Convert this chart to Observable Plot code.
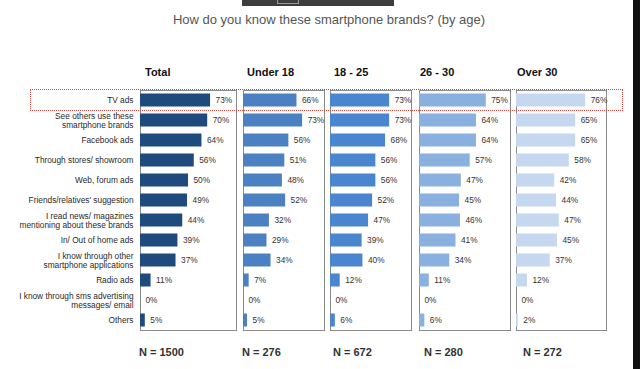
<!DOCTYPE html>
<html>
<head>
<meta charset="utf-8">
<script src="https://cdn.jsdelivr.net/npm/d3@7"></script>
<script src="https://cdn.jsdelivr.net/npm/@observablehq/plot@0.6"></script>
<style>
  html, body { margin: 0; padding: 0; background: #fff; }
  #wrap { position: relative; width: 640px; height: 369px; overflow: hidden; background: #fff;
          font-family: "Liberation Sans", Arial, sans-serif; }
  .abs { position: absolute; white-space: nowrap; }
  .hdr { font-size: 11px; font-weight: bold; color: #111; line-height: 14px; }
  .plotbox { position: absolute; top: 0; }
</style>
</head>
<body>
<div id="wrap"></div>
<script>
// ---- data ----
const categories = [
  "TV ads",
  "See others use these\nsmartphone brands",
  "Facebook ads",
  "Through stores/ showroom",
  "Web, forum ads",
  "Friends/relatives' suggestion",
  "I read news/ magazines\nmentioning about these brands",
  "In/ Out of home ads",
  "I know through other\nsmartphone applications",
  "Radio ads",
  "I know through sms advertising\nmessages/ email",
  "Others"
];
const groups = ["Total", "Under 18", "18 - 25", "26 - 30", "Over 30"];
const sampleSizes = ["N = 1500", "N = 276", "N = 672", "N = 280", "N = 272"];
const total   = [73, 70, 64, 56, 50, 49, 44, 39, 37, 11, 0, 5];
const under18 = [66, 73, 56, 51, 48, 52, 32, 29, 34, 7, 0, 5];
const age1825 = [73, 73, 68, 56, 56, 52, 47, 39, 40, 12, 0, 6];
const age2630 = [75, 64, 64, 57, 47, 45, 46, 41, 34, 11, 0, 6];
const over30  = [76, 65, 65, 58, 42, 44, 47, 45, 37, 12, 0, 2];
const series = [total, under18, age1825, age2630, over30];
const colors = ["#1f4a7e", "#4b80c3", "#4a86cf", "#8ab0df", "#c5d8f0"];

// ---- layout (not data) ----
const panels = [
  {left: 140, right: 236, k: 0.96, hx: 145, nx: 139},
  {left: 243, right: 324, k: 0.81, hx: 247, nx: 242},
  {left: 330, right: 411, k: 0.81, hx: 334, nx: 333},
  {left: 419, right: 510, k: 0.89, hx: 420, nx: 424},
  {left: 516, right: 606, k: 0.91, hx: 517, nx: 523}
];
const FONT = "Liberation Sans, Arial, sans-serif";
const wrap = document.getElementById("wrap");

function addDiv(cls, css, text) {
  const d = document.createElement("div");
  d.className = cls;
  Object.assign(d.style, css);
  if (text != null) d.textContent = text;
  wrap.appendChild(d);
  return d;
}

// screenshot artefacts: dark bar at top, black edge on the right
const topBar = addDiv("abs", {left: "242px", top: "0px", width: "152px", height: "6px", background: "#3d3d3d"});
addDiv("abs", {left: "277px", top: "0px", width: "20px", height: "3px", border: "1px solid #999", borderTop: "none"});
addDiv("abs", {left: "633px", top: "0px", width: "7px", height: "369px", background: "#111"});

// title
addDiv("abs", {left: "129px", width: "400px", top: "12px", lineHeight: "15px", fontSize: "13px",
  color: "#555", textAlign: "center"}, "How do you know these smartphone brands? (by age)");

panels.forEach((p, i) => {
  const values = series[i];
  const rows = categories.map((c, j) => ({category: c, value: values[j]}));
  const mL = i === 0 ? p.left : 1;
  const pw = p.right - p.left;
  const width = mL + pw + 1;
  const marks = [
    Plot.frame({stroke: "#8a8a8a", strokeWidth: 1}),
    Plot.barX(rows, {x1: 0, x2: "value", y: "category", fill: colors[i], insetTop: 3.5, insetBottom: 3.5}),
    Plot.text(rows, {x: "value", y: "category", text: d => d.value + "%", dx: 5, textAnchor: "start",
      fontSize: 8.3, fill: "#333"})
  ];
  if (i === 0) {
    marks.push(Plot.text(categories, {x: 0, y: d => d, text: d => d, textAnchor: "end", dx: -7,
      fontSize: 8.3, fill: "#2a2a2a", lineHeight: 1.05}));
  }
  const chart = Plot.plot({
    width, height: 369,
    marginLeft: mL, marginRight: 1, marginTop: 90, marginBottom: 39,
    x: {domain: [0, pw / p.k], axis: null},
    y: {domain: categories, padding: 0, axis: null},
    style: {background: "transparent", overflow: "visible", fontFamily: FONT},
    marks
  });
  const box = addDiv("plotbox", {left: (p.left - mL) + "px", width: width + "px", height: "369px"});
  box.appendChild(chart);

  addDiv("abs hdr", {left: p.hx + "px", top: "65px"}, groups[i]);
  addDiv("abs hdr", {left: p.nx + "px", top: "345px", color: "#333"}, sampleSizes[i]);
});

// red dotted highlight around the first row
addDiv("abs", {left: "30px", top: "89px", width: "591px", height: "20px", border: "1px dotted #c9453f"});
</script>
</body>
</html>
